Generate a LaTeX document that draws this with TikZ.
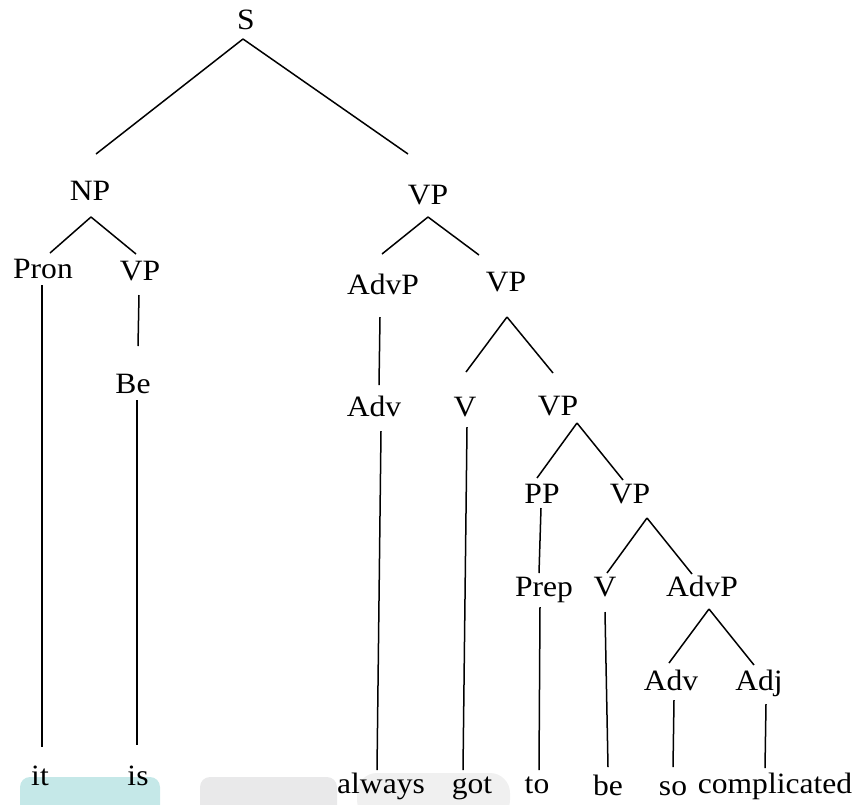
\documentclass[tikz,border=0pt]{standalone}
\usepackage{fontspec}
\setmainfont{Liberation Serif}[FakeStretch=1.07]
\definecolor{tealbg}{RGB}{197,232,232}
\definecolor{greybg}{RGB}{233,233,234}
\newcommand{\conn}[6]{\draw ([shift={(#2,#3)}]#1.base) -- ([shift={(#5,#6)}]#4.base);}
\begin{document}
\begin{tikzpicture}[x=1pt,y=-1pt,
  lbl/.style={font=\fontsize{29.5}{34}\selectfont, inner sep=0pt, anchor=base},
  every path/.style={line width=1.5pt}]
\useasboundingbox (0,0) rectangle (859,804);
% faint background shapes
\fill[tealbg, rounded corners=10pt] (20,820) rectangle (160,777);
\fill[greybg, rounded corners=10pt] (200,820) rectangle (337,777);
\fill[greybg!70!white, rounded corners=20pt] (357,820) rectangle (510,773);
% nodes
\node[lbl] (S) at (246,29) {S};
\node[lbl] (NP) at (90,200) {NP};
\node[lbl] (VP1) at (428,204) {VP};
\node[lbl] (Pron) at (43,278) {Pron};
\node[lbl] (VPa) at (140,280) {VP};
\node[lbl] (Be) at (133,393) {Be};
\node[lbl] (AdvP1) at (383,294) {AdvP};
\node[lbl] (VP2) at (506,291) {VP};
\node[lbl] (Adv1) at (374,416) {Adv};
\node[lbl] (V1) at (465,416) {V};
\node[lbl] (VP3) at (558,415) {VP};
\node[lbl] (PP) at (542,503) {PP};
\node[lbl] (VP4) at (630,503) {VP};
\node[lbl] (Prep) at (544,596) {Prep};
\node[lbl] (V2) at (605,596) {V};
\node[lbl] (AdvP2) at (702,596) {AdvP};
\node[lbl] (Adv2) at (671,690) {Adv};
\node[lbl] (Adj) at (759,690) {Adj};
\node[lbl] (it) at (40,785) {it};
\node[lbl] (is) at (138,785) {is};
\node[lbl] (always) at (381,793) {always};
\node[lbl] (got) at (472,793) {got};
\node[lbl] (to) at (537,793) {to};
\node[lbl] (be) at (608,795) {be};
\node[lbl] (so) at (673,795) {so};
\node[lbl] (complicated) at (775,793) {complicated};
% connectors
\conn{S}{-3}{10}{NP}{6}{-46}
\conn{S}{-3}{10}{VP1}{-20}{-50}
\conn{NP}{1}{17}{Pron}{7}{-25}
\conn{NP}{1}{17}{VPa}{-4}{-26}
\conn{VP1}{0}{13}{AdvP1}{-1}{-40}
\conn{VP1}{0}{13}{VP2}{-27}{-36}
\conn{Pron}{-1}{7}{it}{2}{-38}
\conn{VPa}{-1}{15}{Be}{5}{-47}
\conn{Be}{4}{7}{is}{-1}{-40}
\conn{AdvP1}{-3}{23}{Adv1}{5}{-31}
\conn{Adv1}{7}{15}{always}{-4}{-23}
\conn{VP2}{1}{26}{V1}{1}{-44}
\conn{VP2}{1}{26}{VP3}{-5}{-42}
\conn{V1}{2}{11}{got}{-9}{-23}
\conn{VP3}{19}{8}{PP}{-5}{-25}
\conn{VP3}{19}{8}{VP4}{-7}{-23}
\conn{PP}{-1}{5}{Prep}{-5}{-23}
\conn{VP4}{17}{15}{V2}{2}{-23}
\conn{VP4}{17}{15}{AdvP2}{-10}{-22}
\conn{Prep}{-4}{11}{to}{2}{-23}
\conn{V2}{0}{16}{be}{0}{-28}
\conn{AdvP2}{7}{13}{Adv2}{-2}{-27}
\conn{AdvP2}{7}{13}{Adj}{-5}{-25}
\conn{Adv2}{3}{10}{so}{0}{-28}
\conn{Adj}{7}{14}{complicated}{-10}{-25}
\end{tikzpicture}
\end{document}
